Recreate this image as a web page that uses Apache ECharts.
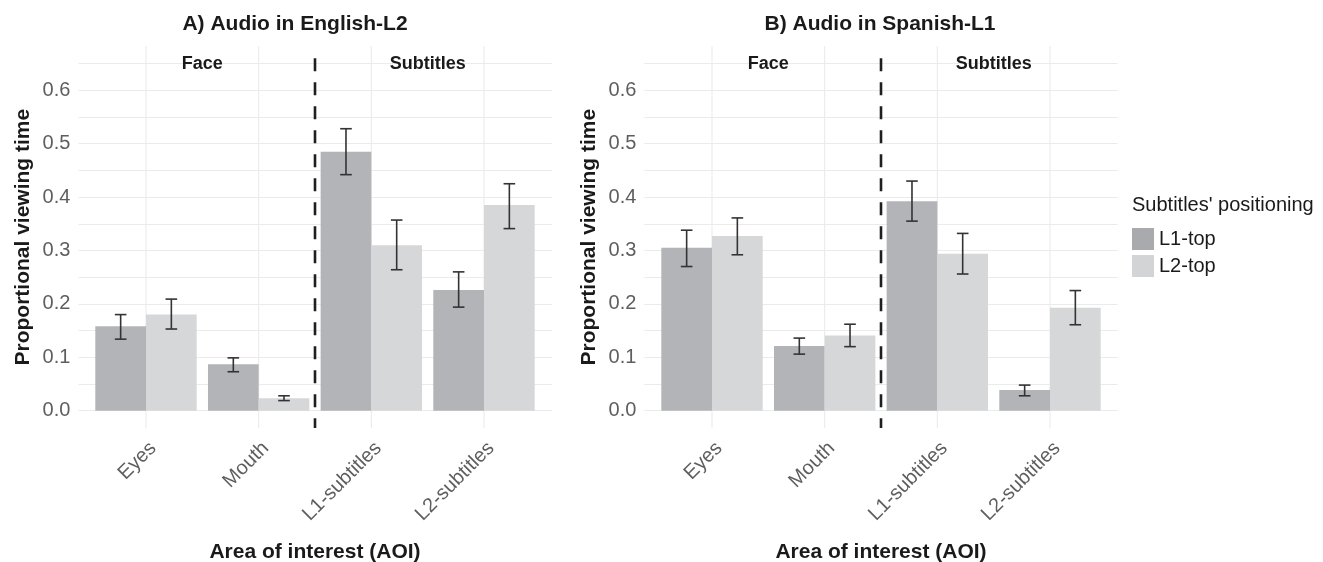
<!DOCTYPE html>
<html>
<head>
<meta charset="utf-8">
<title>Proportional viewing time</title>
<script src="https://cdn.jsdelivr.net/npm/echarts@6/dist/echarts.min.js"></script>
<style>
html, body { margin: 0; padding: 0; background: #fff; }
#main { width: 1323px; height: 562px; }
</style>
</head>
<body>
<div id="main"></div>
<script>
// categories and groups
var categories = ['Eyes', 'Mouth', 'L1-subtitles', 'L2-subtitles'];
var seriesNames = ['L1-top', 'L2-top'];
var groupLabels = ['Face', 'Subtitles'];
var groupSpans = [[0, 1], [2, 3]];
var dividerBetween = [1, 2];

// A) Audio in English-L2
var engL1top = [0.158, 0.087, 0.485, 0.226];
var engL1topLo = [0.134, 0.073, 0.442, 0.194];
var engL1topHi = [0.180, 0.099, 0.528, 0.260];
var engL2top = [0.180, 0.0235, 0.310, 0.385];
var engL2topLo = [0.153, 0.019, 0.264, 0.341];
var engL2topHi = [0.209, 0.028, 0.357, 0.425];

// B) Audio in Spanish-L1
var spaL1top = [0.305, 0.121, 0.392, 0.039];
var spaL1topLo = [0.270, 0.106, 0.355, 0.028];
var spaL1topHi = [0.338, 0.136, 0.430, 0.048];
var spaL2top = [0.327, 0.141, 0.294, 0.193];
var spaL2topLo = [0.292, 0.120, 0.256, 0.161];
var spaL2topHi = [0.361, 0.162, 0.332, 0.225];

// y axis
var yTickLabels = [0, 0.1, 0.2, 0.3, 0.4, 0.5, 0.6];
var yGridValues = [0, 0.05, 0.1, 0.15, 0.2, 0.25, 0.3, 0.35, 0.4, 0.45, 0.5, 0.55, 0.6, 0.65];
var yMin = -0.0325, yMax = 0.6825;
var groupLabelLevel = 0.65;
var dividerTop = 0.66;

var FONT = 'Liberation Sans, Arial, Helvetica, sans-serif';
var DARK = '#b3b4b7', LIGHT = '#d6d7d9';
var barFrac = 0.45;

// panel boxes (outer = full panel, inner = category bands, ggplot-like 0.6 expansion)
var panelTop = 46.2, panelHeight = 381.9;
var panelLefts = [78.4, 644.4], panelWidth = 473.2;
var step = panelWidth / (categories.length - 1 + 1.2);

var myChart = echarts.init(document.getElementById('main'));

var grids = [], xAxes = [], yAxes = [];
panelLefts.forEach(function (left) {
    grids.push({ left: left, top: panelTop, width: panelWidth, height: panelHeight, outerBoundsMode: 'none' });
    grids.push({ left: left + 0.1 * step, top: panelTop, width: step * categories.length,
                 height: panelHeight, outerBoundsMode: 'none' });
});

function addAxes(p) {
    var go = p * 2, gi = p * 2 + 1;
    // outer: y labels + horizontal grid lines
    xAxes.push({ gridIndex: go, type: 'value', min: 0, max: 1, show: false });
    yAxes.push({
        gridIndex: go, type: 'value', min: yMin, max: yMax,
        axisLine: { show: false },
        axisTick: { show: false, customValues: yGridValues },
        axisLabel: {
            customValues: yTickLabels,
            formatter: function (v) { return v.toFixed(1); },
            fontSize: 20, color: '#5e5e5e', margin: 8, fontFamily: FONT
        },
        splitLine: { show: true, lineStyle: { color: '#ebebeb', width: 1.1 } },
        name: 'Proportional viewing time',
        nameLocation: 'middle',
        nameGap: 45,
        nameTextStyle: { fontWeight: 'bold', fontSize: 21, color: '#1a1a1a', fontFamily: FONT }
    });
    // inner: categories, bars
    xAxes.push({
        gridIndex: gi, type: 'category', data: categories,
        axisLine: { show: false }, axisTick: { show: false }, splitLine: { show: false },
        axisLabel: {
            interval: 0, rotate: 45, fontSize: 20, color: '#5e5e5e', fontFamily: FONT,
            margin: 10, align: 'right', verticalAlign: 'top'
        },
        name: 'Area of interest (AOI)',
        nameLocation: 'middle',
        nameGap: 114,
        nameTextStyle: { fontWeight: 'bold', fontSize: 21, color: '#1a1a1a', fontFamily: FONT }
    });
    yAxes.push({ gridIndex: gi, type: 'value', min: yMin, max: yMax, show: false, splitLine: { show: false } });
}
addAxes(0);
addAxes(1);

function barSeries(a, name, values, color) {
    return {
        type: 'bar', name: name, xAxisIndex: a, yAxisIndex: a,
        data: values, barWidth: '45%', barGap: '0%',
        itemStyle: { color: color }, z: 2, silent: true
    };
}

// vertical grid lines at category centres
function vGridSeries(a) {
    return {
        type: 'custom', xAxisIndex: a, yAxisIndex: a, z: 1, silent: true,
        data: categories.map(function (c, i) { return [i, 0]; }),
        renderItem: function (params, api) {
            var cs = params.coordSys;
            var x = api.coord([api.value(0), 0])[0];
            return { type: 'line', shape: { x1: x, y1: cs.y, x2: x, y2: cs.y + cs.height },
                     style: { stroke: '#ebebeb', lineWidth: 1.1 } };
        }
    };
}

function errorSeries(a, lo, hi, side) {
    return {
        type: 'custom', xAxisIndex: a, yAxisIndex: a, z: 5, silent: true,
        data: lo.map(function (v, i) { return [i, v, hi[i]]; }),
        renderItem: function (params, api) {
            var band = api.size([1, 0])[0];
            var top = api.coord([api.value(0), api.value(2)]);
            var bot = api.coord([api.value(0), api.value(1)]);
            var x = top[0] + side * band * barFrac / 2;
            var cap = 5.8;
            var st = { stroke: '#333333', lineWidth: 1.6 };
            return { type: 'group', children: [
                { type: 'line', shape: { x1: x, y1: top[1], x2: x, y2: bot[1] }, style: st },
                { type: 'line', shape: { x1: x - cap, y1: top[1], x2: x + cap, y2: top[1] }, style: st },
                { type: 'line', shape: { x1: x - cap, y1: bot[1], x2: x + cap, y2: bot[1] }, style: st }
            ] };
        }
    };
}

function dividerSeries(a) {
    return {
        type: 'custom', xAxisIndex: a, yAxisIndex: a, z: 6, silent: true,
        data: [[dividerBetween[0], dividerBetween[1]]],
        renderItem: function (params, api) {
            var cs = params.coordSys;
            var p = api.coord([api.value(0), dividerTop]);
            var q = api.coord([api.value(1), dividerTop]);
            var x = (p[0] + q[0]) / 2;
            return { type: 'line', shape: { x1: x, y1: p[1], x2: x, y2: cs.y + cs.height },
                     style: { stroke: '#1f1f1f', lineWidth: 2.6, lineDash: [13, 11] } };
        }
    };
}

function groupLabelSeries(a) {
    return {
        type: 'custom', xAxisIndex: a, yAxisIndex: a, z: 6, silent: true,
        data: groupSpans.map(function (s, k) { return [s[0], s[1], k]; }),
        renderItem: function (params, api) {
            var p = api.coord([api.value(0), groupLabelLevel]);
            var q = api.coord([api.value(1), groupLabelLevel]);
            return { type: 'text', x: (p[0] + q[0]) / 2, y: p[1],
                     style: { text: groupLabels[api.value(2)], fill: '#1a1a1a',
                              font: 'bold 18px ' + FONT, align: 'center', verticalAlign: 'middle' } };
        }
    };
}

var option = {
    backgroundColor: '#fff',
    animation: false,
    textStyle: { fontFamily: FONT },
    title: [
        { text: 'A) Audio in English-L2', left: 295, top: 14, textAlign: 'center', padding: 0,
          textStyle: { fontWeight: 'bold', fontSize: 21, color: '#1a1a1a', fontFamily: FONT } },
        { text: 'B) Audio in Spanish-L1', left: 880, top: 14, textAlign: 'center', padding: 0,
          textStyle: { fontWeight: 'bold', fontSize: 21, color: '#1a1a1a', fontFamily: FONT } },
        { text: "Subtitles' positioning", left: 1132, top: 195, padding: 0,
          textStyle: { fontWeight: 'normal', fontSize: 20, color: '#1a1a1a', fontFamily: FONT } }
    ],
    legend: {
        orient: 'vertical', left: 1132, top: 228, padding: 0,
        itemWidth: 22, itemHeight: 22, itemGap: 5, icon: 'rect',
        textStyle: { fontSize: 20, color: '#1a1a1a', fontFamily: FONT },
        data: [
            { name: seriesNames[0], itemStyle: { color: '#a8aaad' } },
            { name: seriesNames[1], itemStyle: { color: '#d3d4d6' } }
        ]
    },
    grid: grids,
    xAxis: xAxes,
    yAxis: yAxes,
    series: [
        vGridSeries(1),
        barSeries(1, seriesNames[0], engL1top, DARK),
        barSeries(1, seriesNames[1], engL2top, LIGHT),
        errorSeries(1, engL1topLo, engL1topHi, -1),
        errorSeries(1, engL2topLo, engL2topHi, 1),
        dividerSeries(1),
        groupLabelSeries(1),
        vGridSeries(3),
        barSeries(3, seriesNames[0], spaL1top, DARK),
        barSeries(3, seriesNames[1], spaL2top, LIGHT),
        errorSeries(3, spaL1topLo, spaL1topHi, -1),
        errorSeries(3, spaL2topLo, spaL2topHi, 1),
        dividerSeries(3),
        groupLabelSeries(3)
    ]
};

myChart.setOption(option);
window.onresize = function () {
    myChart.resize();
};
</script>
</body>
</html>
